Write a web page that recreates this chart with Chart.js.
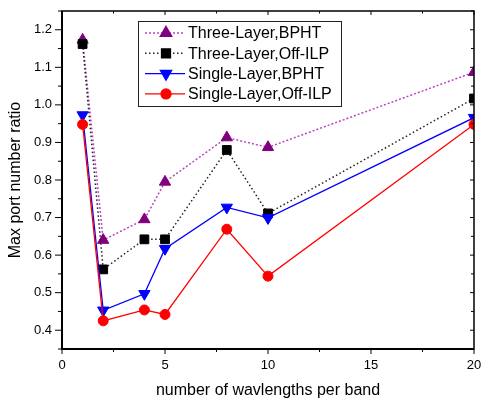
<!DOCTYPE html>
<html>
<head>
<meta charset="utf-8">
<script src="https://cdn.jsdelivr.net/npm/chart.js@4/dist/chart.umd.min.js"></script>
<style>
  body { margin: 0; background: #fff; }
  canvas { display: block; }
</style>
</head>
<body>
<canvas id="chart" width="482" height="400"></canvas>
<script>
// data
var xValues = [1, 2, 4, 5, 8, 10, 20];
var threeBPHT = [1.173, 0.640, 0.695, 0.795, 0.913, 0.887, 1.087];
var threeOffILP = [1.162, 0.562, 0.642, 0.642, 0.880, 0.711, 1.017];
var singleBPHT = [0.973, 0.453, 0.497, 0.617, 0.727, 0.699, 0.966];
var singleOffILP = [0.948, 0.425, 0.454, 0.442, 0.669, 0.544, 0.948];

var seriesNames = ["Three-Layer,BPHT", "Three-Layer,Off-ILP", "Single-Layer,BPHT", "Single-Layer,Off-ILP"];
var xTicks = [0, 5, 10, 15, 20];
var yTicks = [0.4, 0.5, 0.6, 0.7, 0.8, 0.9, 1.0, 1.1, 1.2];

var FONT = "'Liberation Sans', Arial, sans-serif";

function pts(ys) {
    return xValues.map(function (x, i) { return { x: x, y: ys[i] }; });
}

// legend box + axis frame with inner/outer ticks
var framePlugin = {
    id: 'frame',
    afterDraw: function (chart) {
        var ctx = chart.ctx;
        var a = chart.chartArea;
        var xs = chart.scales.x, ys = chart.scales.y;
        ctx.save();
        ctx.strokeStyle = '#000';

        // minor ticks are halfway between majors
        var xMinor = [], yMinor = [];
        for (var i = 0; i < xTicks.length - 1; i++) xMinor.push((xTicks[i] + xTicks[i + 1]) / 2);
        for (var j = 0; j < yTicks.length - 1; j++) yMinor.push((yTicks[j] + yTicks[j + 1]) / 2);
        yMinor.unshift(yTicks[0] - 0.05);
        yMinor.push(yTicks[yTicks.length - 1] + 0.05);

        ctx.lineWidth = 1;
        ctx.beginPath();
        xTicks.forEach(function (v) {
            var px = xs.getPixelForValue(v);
            ctx.moveTo(px, a.bottom); ctx.lineTo(px, a.bottom + 5);
            ctx.moveTo(px, a.top); ctx.lineTo(px, a.top + 4);
        });
        xMinor.forEach(function (v) {
            var px = xs.getPixelForValue(v);
            ctx.moveTo(px, a.bottom); ctx.lineTo(px, a.bottom + 3);
            ctx.moveTo(px, a.top); ctx.lineTo(px, a.top + 2.5);
        });
        yTicks.forEach(function (v) {
            var py = ys.getPixelForValue(v);
            ctx.moveTo(a.left - 7, py); ctx.lineTo(a.left, py);
            ctx.moveTo(a.right, py); ctx.lineTo(a.right - 4, py);
        });
        yMinor.forEach(function (v) {
            var py = ys.getPixelForValue(v);
            ctx.moveTo(a.left - 4, py); ctx.lineTo(a.left, py);
            ctx.moveTo(a.right, py); ctx.lineTo(a.right - 3, py);
        });
        ctx.stroke();

        ctx.lineWidth = 1.5;
        ctx.strokeRect(a.left, a.top, a.right - a.left, a.bottom - a.top);
        ctx.lineWidth = 2;
        ctx.beginPath();
        ctx.moveTo(a.left, a.top); ctx.lineTo(a.left, a.bottom); ctx.lineTo(a.right, a.bottom);
        ctx.stroke();

        // legend
        var bx = 138, by = 21, bw = 203, bh = 85;
        ctx.fillStyle = '#fff';
        ctx.fillRect(bx, by, bw, bh);
        ctx.lineWidth = 1;
        ctx.strokeStyle = '#222';
        ctx.strokeRect(bx + 0.5, by + 0.5, bw, bh);
        ctx.font = '16px ' + FONT;
        ctx.textBaseline = 'middle';
        ctx.textAlign = 'left';
        chart.data.datasets.forEach(function (ds, k) {
            var cy = by + 12 + k * 20.3;
            ctx.save();
            ctx.strokeStyle = ds.borderColor;
            ctx.lineWidth = ds.borderWidth;
            ctx.setLineDash(ds.borderDash || []);
            ctx.beginPath();
            ctx.moveTo(145, cy); ctx.lineTo(185, cy);
            ctx.stroke();
            ctx.setLineDash([]);
            ctx.fillStyle = ds.pointBackgroundColor;
            ctx.strokeStyle = ds.pointBorderColor;
            Chart.helpers.drawPoint(ctx, {
                pointStyle: ds.pointStyle,
                rotation: ds.pointRotation || 0,
                radius: ds.pointRadius,
                borderWidth: ds.pointBorderWidth
            }, 166, cy);
            ctx.restore();
            ctx.fillStyle = '#000';
            ctx.fillText(ds.label, 188, cy + 1);
        });
        ctx.restore();
    }
};

new Chart(document.getElementById('chart'), {
    type: 'line',
    data: {
        datasets: [{
            label: seriesNames[0],
            data: pts(threeBPHT),
            borderColor: '#b848c0',
            borderWidth: 1.5,
            borderDash: [2, 2],
            pointStyle: 'triangle',
            pointRadius: 6.5,
            pointBackgroundColor: '#800080',
            pointBorderColor: '#800080',
            pointBorderWidth: 1,
            clip: 0,
            order: 4
        }, {
            label: seriesNames[1],
            data: pts(threeOffILP),
            borderColor: '#222',
            borderWidth: 1.5,
            borderDash: [1.5, 2.5],
            pointStyle: 'rect',
            pointRadius: 6.2,
            pointBackgroundColor: '#000',
            pointBorderColor: '#000',
            pointBorderWidth: 1,
            clip: 0,
            order: 3
        }, {
            label: seriesNames[2],
            data: pts(singleBPHT),
            borderColor: '#0000ff',
            borderWidth: 1.3,
            pointStyle: 'triangle',
            pointRotation: 180,
            pointRadius: 6.5,
            pointBackgroundColor: '#0000ff',
            pointBorderColor: '#0000ff',
            pointBorderWidth: 1,
            clip: 0,
            order: 2
        }, {
            label: seriesNames[3],
            data: pts(singleOffILP),
            borderColor: '#ff0000',
            borderWidth: 1.3,
            pointStyle: 'circle',
            pointRadius: 5,
            pointBackgroundColor: '#ff0000',
            pointBorderColor: '#ff0000',
            pointBorderWidth: 1,
            clip: 0,
            order: 1
        }]
    },
    options: {
        responsive: false,
        animation: false,
        layout: { padding: { left: 0, top: 11, right: 8, bottom: 0 } },
        plugins: { legend: { display: false }, tooltip: { enabled: false } },
        elements: { line: { tension: 0 } },
        scales: {
            x: {
                type: 'linear',
                min: 0,
                max: 20,
                afterBuildTicks: function (s) { s.ticks = xTicks.map(function (v) { return { value: v }; }); },
                afterFit: function (s) { s.height = 51; s.paddingLeft = 0; s.paddingRight = 0; },
                grid: { display: false, drawTicks: false },
                border: { display: false },
                ticks: {
                    autoSkip: false, maxRotation: 0, padding: 9, color: '#000',
                    font: { family: FONT, size: 13 },
                    callback: function (v) { return String(v); }
                },
                title: {
                    display: true, text: 'number of wavlengths per band', color: '#000',
                    font: { family: FONT, size: 16 }, padding: { top: 0, bottom: 0 }
                }
            },
            y: {
                type: 'linear',
                min: 0.35,
                max: 1.25,
                afterBuildTicks: function (s) { s.ticks = yTicks.map(function (v) { return { value: v }; }); },
                afterFit: function (s) { s.width = 62; s.paddingTop = 0; s.paddingBottom = 0; },
                grid: { display: false, drawTicks: false },
                border: { display: false },
                ticks: {
                    autoSkip: false, padding: 10, color: '#000',
                    font: { family: FONT, size: 13 },
                    callback: function (v) { return Number(v).toFixed(1); }
                },
                title: {
                    display: true, text: 'Max port number ratio', color: '#000',
                    font: { family: FONT, size: 16 }, padding: { top: 6, bottom: 0 }
                }
            }
        }
    },
    plugins: [framePlugin]
});
</script>
</body>
</html>
